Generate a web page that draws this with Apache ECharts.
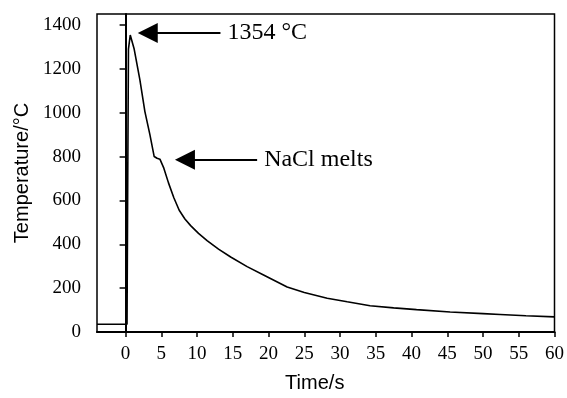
<!DOCTYPE html>
<html>
<head>
<meta charset="utf-8">
<script src="https://cdn.jsdelivr.net/npm/echarts@6/dist/echarts.min.js"></script>
<style>html,body{margin:0;padding:0;background:#fff}#c{width:567px;height:398px}</style>
</head>
<body>
<div id="c"></div>
<script>
// time (s)
var times = [-4, 0.2, 0.3, 0.4, 0.65, 1.2, 2.0, 2.7, 3.4, 4.0, 4.4, 4.8, 5.35, 6.0, 6.75, 7.5, 8.3, 9.1, 10.2, 11.4, 13, 14.7, 17, 19.3, 22.6, 25, 28.2, 31, 34.2, 37.5, 40.7, 45.4, 50, 52.4, 56, 60];
// temperature (°C)
var temps = [35, 35, 700, 1290, 1354, 1290, 1150, 1005, 900, 800, 792, 788, 747, 680, 612, 555, 515, 485, 450, 417, 378, 342, 298, 260, 205, 180, 154, 138, 120, 110, 102, 91, 84, 80, 74, 69];
var xTicks = [0, 5, 10, 15, 20, 25, 30, 35, 40, 45, 50, 55, 60];
var yTicks = [0, 200, 400, 600, 800, 1000, 1200, 1400];
// annotations: [tipTime, temp, tailTime, label]
var ann1 = [3.1, 1363, 13.27, '1354 °C'];
var ann2 = [8.3, 785, 18.4, 'NaCl melts'];

var data = times.map(function (t, i) { return [t, temps[i]]; });
var serif = '"Liberation Serif", "Times New Roman", serif';
var sans = '"Liberation Sans", Arial, sans-serif';

function arrow(a) {
  return [
    { coord: [a[0], a[1]], symbol: 'triangle', symbolSize: [20, 20] },
    { coord: [a[2], a[1]], symbol: 'none', label: { show: true, position: 'end', formatter: a[3], distance: 7, color: '#000', fontFamily: serif, fontSize: 24 } }
  ];
}
function plain(v) { return String(v); }

var chart = echarts.init(document.getElementById('c'));
chart.setOption({
  animation: false,
  backgroundColor: '#fff',
  grid: { left: 97, right: 12, top: 14, bottom: 62, show: true, borderColor: '#000', borderWidth: 1.5, backgroundColor: 'transparent' },
  xAxis: {
    type: 'value', min: -4, max: 60,
    name: 'Time/s', nameLocation: 'middle', nameGap: 41,
    nameTextStyle: { fontFamily: sans, fontSize: 20, color: '#000', padding: [0, 22, 0, 0] },
    axisLine: { show: true, lineStyle: { color: '#000', width: 2 } },
    axisTick: { show: true, length: 5, customValues: xTicks, lineStyle: { color: '#000', width: 1.5 } },
    axisLabel: { customValues: xTicks, formatter: plain, fontFamily: serif, fontSize: 19, color: '#000', margin: 13 },
    splitLine: { show: false }
  },
  yAxis: {
    type: 'value', min: 0, max: 1450,
    name: 'Temperature/°C', nameLocation: 'middle', nameGap: 64, nameRotate: 90,
    nameTextStyle: { fontFamily: sans, fontSize: 20, color: '#000' },
    axisLine: { show: true, lineStyle: { color: '#000', width: 2 } },
    axisTick: { show: true, length: 6, customValues: yTicks, lineStyle: { color: '#000', width: 1.5 } },
    axisLabel: { customValues: yTicks, formatter: plain, fontFamily: serif, fontSize: 19, color: '#000', margin: 16 },
    splitLine: { show: false }
  },
  series: [{
    type: 'line', data: data, showSymbol: false, symbol: 'none',
    lineStyle: { color: '#000', width: 1.6 },
    markLine: {
      silent: true, animation: false,
      lineStyle: { color: '#000', width: 2, type: 'solid' },
      itemStyle: { color: '#000' },
      data: [arrow(ann1), arrow(ann2)]
    }
  }]
});
</script>
</body>
</html>
